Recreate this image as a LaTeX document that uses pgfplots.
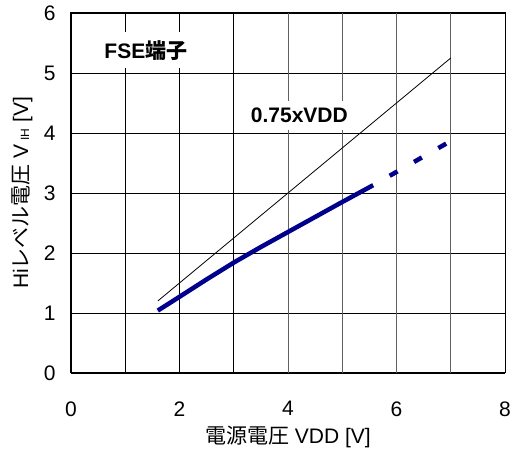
\documentclass[border=0pt]{standalone}
\usepackage{pgfplots}
\pgfplotsset{compat=1.18}
\usepackage{fontspec}
\setmainfont{Liberation Sans}
\newfontfamily\cjk{Noto Sans CJK JP}
\definecolor{navyline}{RGB}{0,0,140}
\begin{document}
\begin{tikzpicture}
\begin{axis}[
 scale only axis, width=434pt, height=360pt,
 xmin=0, xmax=8, ymin=0, ymax=6,
 xtick={0,1,2,3,8}, xticklabels={0,,2,,8},
 extra x ticks={4,5,6,7}, extra x tick labels={4,,6,},
 extra x tick style={grid=major, major grid style={gray!75!black, line width=0.9pt}},
 ytick={0,1,2,3,4,5,6},
 grid=major, major grid style={black, line width=0.7pt},
 major tick length=0pt,
 axis line style={black, line width=1pt},
 /pgf/number format/assume math mode=true,
 tick label style={font=\fontsize{21}{24}\selectfont},
 xticklabel style={yshift=-25pt},
 yticklabel style={xshift=-12pt},
 label style={font=\fontsize{21}{24}\selectfont},
 xlabel={{\cjk 電源電圧} VDD [V]},
 ylabel={Hi{\cjk レベル電圧} V\,\raisebox{-1pt}{\fontsize{12}{12}\selectfont IH} [V]},
 xlabel style={at={(axis description cs:0.5,-0.178)}, anchor=center},
 ylabel style={at={(axis description cs:-0.113,0.5)}, anchor=center},
]
\addplot[black, line width=0.8pt] coordinates {(1.6,1.2) (7,5.25)};
\addplot[navyline, line width=4.5pt, line cap=butt] coordinates {
(1.6,1.04) (2,1.27) (2.5,1.56) (3,1.84) (3.5,2.1) (4,2.35) (4.5,2.6) (5,2.85) (5.57,3.13)};
\addplot[navyline, line width=4.5pt, dash pattern=on 9pt off 19pt, dash phase=9pt] coordinates {(5.57,3.13) (6.93,3.83)};
\node[fill=white, inner xsep=7pt, inner ysep=8pt, font=\fontsize{21}{24}\selectfont\bfseries] at (axis cs:1.38,5.38) {FSE{\cjk\bfseries 端子}};
\node[fill=white, inner xsep=4pt, inner ysep=7pt, font=\fontsize{21}{24}\selectfont\bfseries] at (axis cs:4.21,4.29) {0.75xVDD};
\coordinate (bl) at (rel axis cs:0,0);
\coordinate (tr) at (rel axis cs:1,1);
\end{axis}
\pgfresetboundingbox
\path ([shift={(-71pt,-80pt)}]bl) rectangle ([shift={(6pt,13pt)}]tr);
\end{tikzpicture}
\end{document}
